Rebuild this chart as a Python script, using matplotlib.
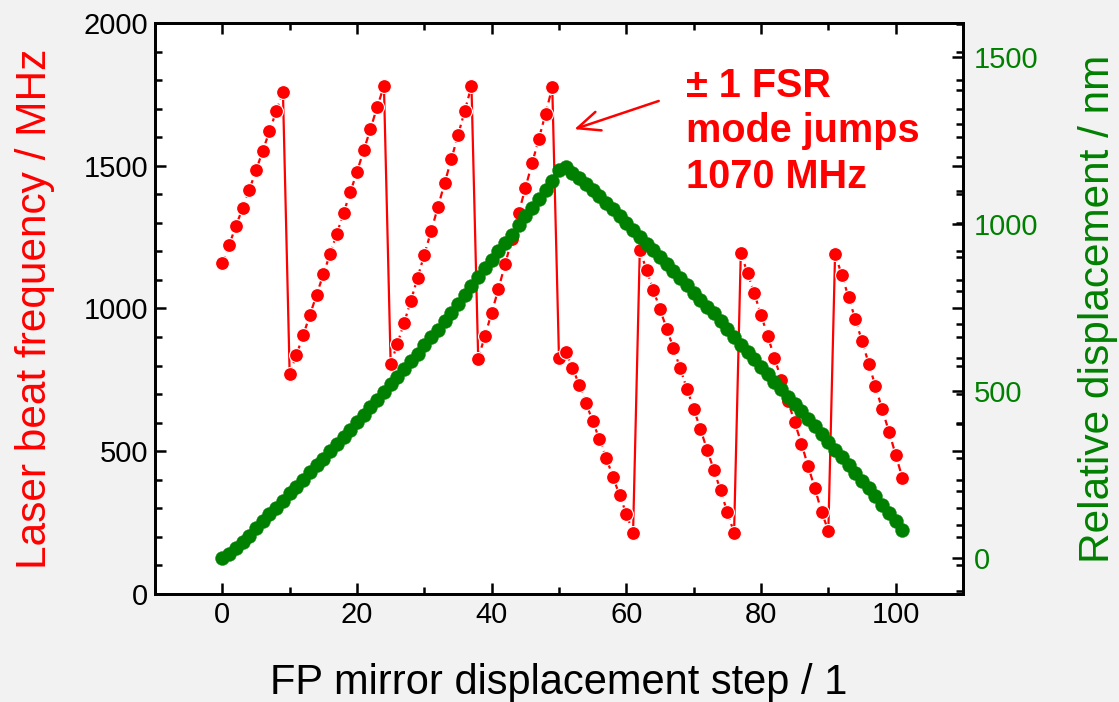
import numpy as np
import matplotlib.pyplot as plt
from matplotlib.ticker import MultipleLocator

plt.rcParams['font.family'] = ['Liberation Sans', 'DejaVu Sans']

# FP mirror step index
steps = list(range(102))

# laser beat frequency (MHz)
beat_freq = [
    1160, 1222, 1288, 1351, 1415, 1484, 1552, 1621, 1691, 1759,
    770, 837, 906, 977, 1048, 1120, 1191, 1262, 1334, 1407, 1479, 1554, 1629, 1706, 1779,
    804, 877, 950, 1027, 1108, 1189, 1270, 1354, 1438, 1522, 1607, 1692, 1779,
    824, 904, 985, 1068, 1156, 1242, 1333, 1422, 1508, 1594, 1682, 1775,
    825, 848, 793, 732, 669, 606, 542, 477, 411, 346, 281, 214,
    1205, 1135, 1066, 997, 929, 861, 790, 719, 649, 578, 505, 434, 363, 286, 215,
    1194, 1124, 1053, 978, 903, 828, 751, 676, 602, 527, 447, 371, 287, 222,
    1191, 1117, 1040, 963, 886, 807, 727, 647, 569, 488, 406,
]
# last step before each mode jump
jump_steps = [9, 24, 37, 49, 61, 76, 90]

# relative displacement (nm), green points
rel_disp = [
    0, 11, 31, 49, 67, 89, 111, 131, 151, 172,
    193, 213, 234, 256, 277, 297, 319, 340, 362, 384,
    406, 428, 451, 474, 496, 520, 542, 565, 589, 612,
    637, 661, 684, 710, 734, 761, 786, 813, 842, 868,
    892, 918, 943, 968, 996, 1024, 1049, 1076, 1102, 1129,
    1162, 1172, 1154, 1137, 1119, 1102, 1084, 1064, 1044, 1025,
    1004, 982, 960, 940, 922, 900, 880, 860, 838, 818,
    794, 772, 752, 733, 711, 687, 663, 639, 617, 595,
    573, 551, 527, 505, 483, 461, 439, 417, 395, 371,
    347, 323, 301, 279, 255, 231, 208, 184, 160, 136,
    110, 84,
]

RED = '#ff0000'
GREEN = '#008000'

fig = plt.figure(figsize=(11.19, 7.02), dpi=100, facecolor='#f2f2f2')
ax = fig.add_axes([155/1119, 1 - 594/702, (963 - 155)/1119, (594 - 23)/702])
ax.set_facecolor('white')
ax2 = ax.twinx()

x = np.array(steps)
f = np.array(beat_freq)

# ramps (dashed) and mode jumps (solid)
bounds = [0] + [j + 1 for j in jump_steps] + [len(x)]
for a, b in zip(bounds[:-1], bounds[1:]):
    ax.plot(x[a:b], f[a:b], color=RED, lw=1.6, ls=(0, (3.2, 2.0)), zorder=2)
for j in jump_steps:
    ax.plot(x[j:j + 2], f[j:j + 2], color=RED, lw=1.6, ls='-', zorder=2)
ax.plot(x, f, ls='none', marker='o', ms=10, mfc=RED, mec='white', mew=0.8, zorder=3)

ax2.plot(x, rel_disp, ls='none', marker='o', ms=10, mfc=GREEN, mec=GREEN, mew=0.3, zorder=3)

ax.set_xlim(-10, 110)
ax.set_ylim(0, 2000)
ax2.set_ylim(-108, 1602)

ax.xaxis.set_major_locator(MultipleLocator(20))
ax.xaxis.set_minor_locator(MultipleLocator(10))
ax.yaxis.set_major_locator(MultipleLocator(500))
ax.yaxis.set_minor_locator(MultipleLocator(100))
ax2.yaxis.set_major_locator(MultipleLocator(500))
ax2.yaxis.set_minor_locator(MultipleLocator(100))

for a_ in (ax, ax2):
    for s in a_.spines.values():
        s.set_linewidth(2.0)

ax.tick_params(which='both', direction='in', top=True, right=True, width=1.8, labelsize=21, pad=5)
ax.tick_params(which='major', length=8)
ax.tick_params(which='minor', length=5)
ax2.tick_params(which='both', direction='in', width=1.8, labelsize=21, labelcolor=GREEN, pad=8)
ax2.tick_params(which='major', length=8)
ax2.tick_params(which='minor', length=5)

ax.set_xlabel('FP mirror displacement step / 1', fontsize=30)
ax.set_ylabel('Laser beat frequency / MHz', fontsize=30.5, color=RED)
ax2.set_ylabel('Relative displacement / nm', fontsize=30.5, color=GREEN)
ax.xaxis.set_label_coords(0.5, (594 - 683) / 571)
ax.xaxis.label.set_va('center')
ax.yaxis.set_label_coords((35 - 155) / 808, 0.5)
ax.yaxis.label.set_va('center')
ax2.yaxis.set_label_coords((1098 - 155) / 808, 0.5)
ax2.yaxis.label.set_va('center')

ax.annotate('', xy=(51.9, 1625), xytext=(65.2, 1730),
            arrowprops=dict(arrowstyle='->,head_length=0.8,head_width=0.35',
                            color=RED, lw=1.8, mutation_scale=20))
ax.text(68.8, 1620, '\u00b1 1 FSR\nmode jumps\n1070 MHz', color=RED, fontsize=28.5,
        fontweight='bold', ha='left', va='center', linespacing=1.25)

fig.savefig('out.png', dpi=100, facecolor=fig.get_facecolor())
